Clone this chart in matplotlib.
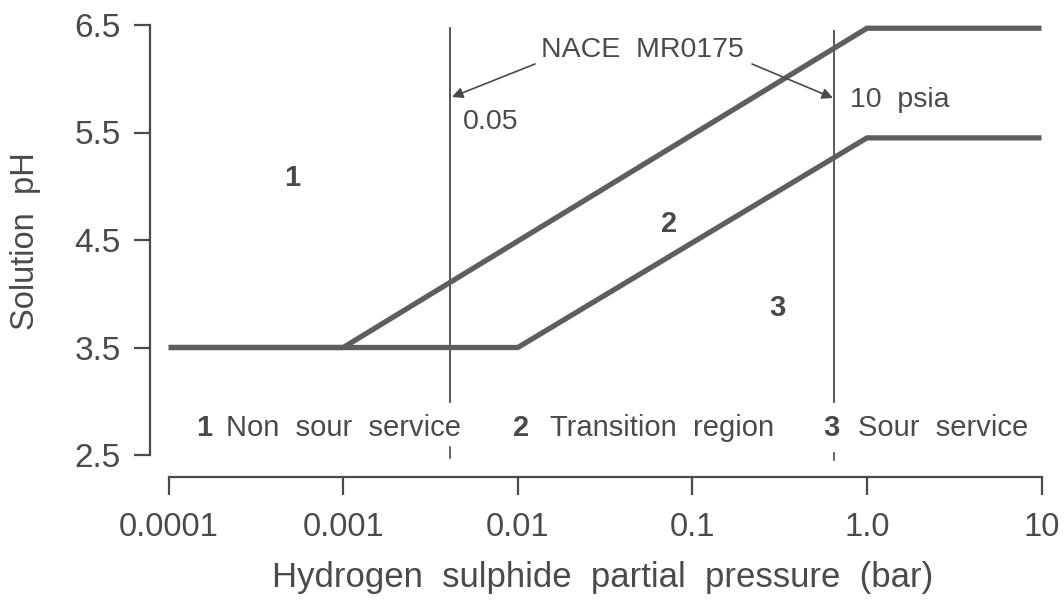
import numpy as np
import matplotlib
matplotlib.use("Agg")
import matplotlib.pyplot as plt

# ---------------- data ----------------
upper_p = [1e-4, 1e-3, 1.0, 10.0]          # bar
upper_ph = [3.5, 3.5, 6.47, 6.47]
lower_p = [1e-4, 1e-2, 1.0, 10.0]
lower_ph = [3.5, 3.5, 5.45, 5.45]
nace_limits = [0.0041, 0.65]               # bar (0.05 psia, 10 psia)
nace_top = [6.47, 6.44]
nace_bottom = [2.99, 2.99]
nace_mark = [(2.57, 2.47), (2.52, 2.45)]
x_ticks = [1e-4, 1e-3, 1e-2, 1e-1, 1.0, 10.0]
x_ticklabels = ["0.0001", "0.001", "0.01", "0.1", "1.0", "10"]
y_ticks = [2.5, 3.5, 4.5, 5.5, 6.5]
y_ticklabels = ["2.5", "3.5", "4.5", "5.5", "6.5"]

# ---------------- layout ----------------
W, H = 1064, 607
DPI = 100
FONT = "Liberation Sans"
TXT = "#4a4a4a"
LINE = "#5e5e5e"
plt.rcParams["font.family"] = [FONT, "DejaVu Sans"]

fig = plt.figure(figsize=(W / DPI, H / DPI), dpi=DPI)
fig.patch.set_facecolor("white")

x0_px, x1_px = 168.7, 1041.5   # pixel positions of 1e-4 and 10
y_top, y_bot = 25, 455         # pixel positions of 6.5 and 2.5
ax = fig.add_axes([x0_px / W, (H - y_bot) / H, (x1_px - x0_px) / W, (y_bot - y_top) / H])
ax.set_xscale("log")
ax.set_xlim(1e-4, 10)
ax.set_ylim(2.5, 6.5)

def px2x(px):
    return 10 ** ((px - x0_px) / ((x1_px - x0_px) / 5.0) - 4)

def px2y(py):
    return 2.5 + (y_bot - py) / ((y_bot - y_top) / 4.0)

# boundary lines
ax.plot(upper_p, upper_ph, color=LINE, lw=3.8, solid_capstyle="butt", clip_on=False, zorder=3)
ax.plot(lower_p, lower_ph, color=LINE, lw=3.8, solid_capstyle="butt", clip_on=False, zorder=3)

# NACE limit lines
for xv, yt, yb, (m1, m2) in zip(nace_limits, nace_top, nace_bottom, nace_mark):
    ax.plot([xv, xv], [yb, yt], color=TXT, lw=1.3, clip_on=False, zorder=2)
    ax.plot([xv, xv], [m2, m1], color=TXT, lw=1.2, clip_on=False, zorder=2)

# spines
for s in ["top", "right"]:
    ax.spines[s].set_visible(False)
ax.spines["left"].set_position(("outward", (x0_px - 150) * 72 / DPI))
ax.spines["bottom"].set_position(("outward", 22 * 72 / DPI))
ax.spines["left"].set_bounds(2.5, 6.5)
for s in ["left", "bottom"]:
    ax.spines[s].set_color(TXT)
    ax.spines[s].set_linewidth(1.6)

ax.set_xticks(x_ticks)
ax.set_xticklabels(x_ticklabels)
ax.xaxis.set_minor_locator(matplotlib.ticker.NullLocator())
ax.set_yticks(y_ticks)
ax.set_yticklabels(y_ticklabels)
ax.tick_params(axis="x", direction="out", length=13, width=1.6, color=TXT,
               labelsize=23.5, labelcolor=TXT, pad=12.5)
ax.tick_params(axis="y", direction="out", length=11.5, width=1.6, color=TXT,
               labelsize=24, labelcolor=TXT, pad=9.5)
ax.patch.set_alpha(0)

# axis labels
fig.text(603 / W, 1 - 578 / H, "Hydrogen  sulphide  partial  pressure  (bar)",
         ha="center", va="center", fontsize=25, color=TXT)
fig.text(26 / W, 1 - 241 / H, "Solution  pH", rotation=90,
         ha="center", va="center", fontsize=23.5, color=TXT)

# annotations
ax.text(px2x(642), px2y(50), "NACE  MR0175", ha="center", va="center", fontsize=20.5, color=TXT)
arrow = dict(arrowstyle="-|>", color=TXT, lw=1.2, mutation_scale=16, shrinkA=0, shrinkB=0)
ax.annotate("", xy=(px2x(452), px2y(97)), xytext=(px2x(535), px2y(64)),
            arrowprops=arrow, annotation_clip=False)
ax.annotate("", xy=(px2x(833), px2y(98)), xytext=(px2x(752), px2y(64)),
            arrowprops=arrow, annotation_clip=False)
ax.text(px2x(463), px2y(122), "0.05", ha="left", va="center", fontsize=20.5, color=TXT)
ax.text(px2x(850), px2y(100), "10  psia", ha="left", va="center", fontsize=20.5, color=TXT)

# region numbers
for px, py, s in [(292, 178, "1"), (669, 224, "2"), (777, 308, "3")]:
    ax.text(px2x(px), px2y(py), s, ha="center", va="center", fontsize=21,
            fontweight="bold", color=TXT)

# region legend along bottom
for npx, wpx, num, label in [(196, 225.5, "1", "Non  sour  service"),
                             (513, 549.5, "2", "Transition  region"),
                             (823.6, 858, "3", "Sour  service")]:
    ax.text(px2x(npx), px2y(428), num, ha="left", va="center", fontsize=21,
            fontweight="bold", color=TXT)
    ax.text(px2x(wpx), px2y(428), label, ha="left", va="center", fontsize=21, color=TXT)

fig.savefig("out.png", dpi=DPI, facecolor="white")
